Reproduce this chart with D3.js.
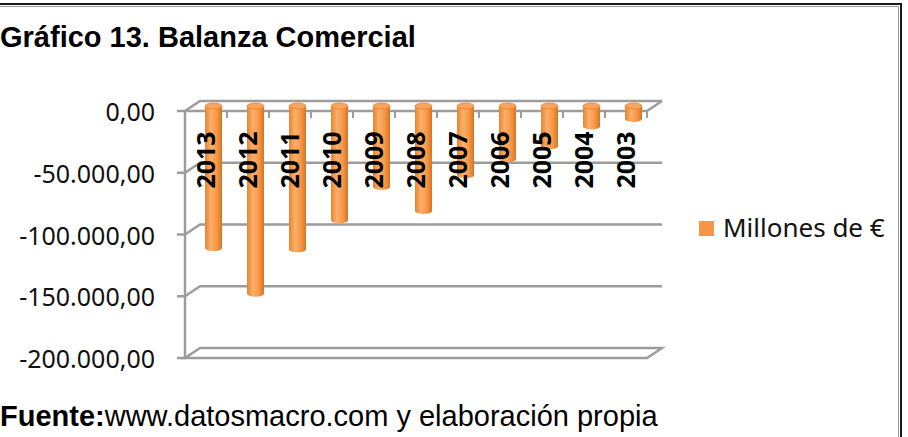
<!DOCTYPE html>
<html>
<head>
<meta charset="utf-8">
<script src="https://cdn.jsdelivr.net/npm/d3@7"></script>
<style>
  body { margin: 0; background: #fff; }
  svg { display: block; }
</style>
</head>
<body>
<div id="chart"></div>
<script>
// data (millones de euros)
var years = ["2013", "2012", "2011", "2010", "2009", "2008", "2007", "2006", "2005", "2004", "2003"];
var balance = [-115000, -152000, -116000, -92500, -65500, -85000, -56000, -43000, -32500, -16500, -10500];
var yTicks = [0, -50000, -100000, -150000, -200000];
var yTickLabels = ["0,00", "-50.000,00", "-100.000,00", "-150.000,00", "-200.000,00"];
var seriesName = "Millones de €";

var width = 908,
  height = 437;

var svg = d3
  .select("#chart")
  .append("svg")
  .attr("width", width)
  .attr("height", height);

// outer frame (left and bottom edges fall outside the picture)
svg
  .append("rect")
  .attr("x", -10)
  .attr("y", 4)
  .attr("width", 911)
  .attr("height", 460)
  .attr("fill", "none")
  .attr("stroke", "#1a1a1a")
  .attr("stroke-width", 2);
svg
  .append("path")
  .attr("d", "M-10,6.5H898.5V437")
  .attr("fill", "none")
  .attr("stroke", "#9a9a9a")
  .attr("stroke-width", 1);

// title
svg
  .append("text")
  .attr("x", 0)
  .attr("y", 47)
  .style("font-family", "'Liberation Sans', Arial, sans-serif")
  .style("font-weight", "bold")
  .style("font-size", "29px")
  .attr("fill", "#000")
  .text("Gráfico 13. Balanza Comercial");

// 3d box: front plane and depth offset
var front = { left: 185, right: 647, top: 111, bottom: 358 };
var depth = { dx: 15, dy: -10 };

var x = d3.scaleBand().domain(years).range([front.left, front.right]);

var yFront = d3.scaleLinear().domain([0, -200000]).range([front.top, front.bottom]);
var yBack = yFront.copy().range([front.top + depth.dy, front.bottom + depth.dy]);
var yMid = yFront.copy().range([front.top + depth.dy / 2, front.bottom + depth.dy / 2]);

var gridColor = "#9c9c9c";
var plot = svg.append("g").attr("class", "plot");

// floor
var fb = yFront(-200000);
plot
  .append("path")
  .attr(
    "d",
    "M" + front.left + "," + fb +
      "L" + (front.left + depth.dx) + "," + (fb + depth.dy) +
      "H" + (front.right + depth.dx) +
      "L" + front.right + "," + fb + "Z"
  )
  .attr("fill", "#fff")
  .attr("stroke", gridColor)
  .attr("stroke-width", 2.5);

// back wall gridlines with the side-wall diagonals
plot
  .selectAll(".grid")
  .data(yTicks.slice(0, -1))
  .join("path")
  .attr("class", "grid")
  .attr("d", function (d) {
    return (
      "M" + front.left + "," + yFront(d) +
      "L" + (front.left + depth.dx) + "," + yBack(d) +
      "H" + (front.right + depth.dx)
    );
  })
  .attr("fill", "none")
  .attr("stroke", gridColor)
  .attr("stroke-width", 2.5);

// value axis (front left edge)
plot
  .append("line")
  .attr("x1", front.left)
  .attr("x2", front.left)
  .attr("y1", front.top)
  .attr("y2", front.bottom)
  .attr("stroke", gridColor)
  .attr("stroke-width", 2.5);

plot
  .selectAll(".ytick")
  .data(yTicks)
  .join("line")
  .attr("class", "ytick")
  .attr("x1", front.left - 8)
  .attr("x2", front.left)
  .attr("y1", function (d) { return yFront(d); })
  .attr("y2", function (d) { return yFront(d); })
  .attr("stroke", gridColor)
  .attr("stroke-width", 2.5);

svg
  .selectAll(".ylabel")
  .data(yTicks)
  .join("text")
  .attr("class", "ylabel")
  .attr("x", 155)
  .attr("y", function (d) { return yFront(d) + 10; })
  .attr("text-anchor", "end")
  .style("font-family", "'Noto Sans', sans-serif")
  .style("font-size", "25px")
  .attr("fill", "#111")
  .text(function (d, i) { return yTickLabels[i]; });

// category axis at zero, ticks between the years
plot
  .append("path")
  .attr(
    "d",
    "M" + front.left + "," + front.top + "H" + front.right +
      "L" + (front.right + depth.dx) + "," + (front.top + depth.dy)
  )
  .attr("fill", "none")
  .attr("stroke", gridColor)
  .attr("stroke-width", 2.5);

var catTicks = years.map(function (d) { return x(d) + x.bandwidth(); });
plot
  .selectAll(".xtick")
  .data(catTicks)
  .join("line")
  .attr("class", "xtick")
  .attr("x1", function (d) { return d; })
  .attr("x2", function (d) { return d; })
  .attr("y1", front.top)
  .attr("y2", front.top + 7)
  .attr("stroke", gridColor)
  .attr("stroke-width", 2);

// cylinder shading
var defs = svg.append("defs");
var grad = defs
  .append("linearGradient")
  .attr("id", "cyl")
  .attr("x1", "0%")
  .attr("x2", "100%");
grad.append("stop").attr("offset", "0%").attr("stop-color", "#e8822f");
grad.append("stop").attr("offset", "35%").attr("stop-color", "#fbb06a");
grad.append("stop").attr("offset", "70%").attr("stop-color", "#f79646");
grad.append("stop").attr("offset", "100%").attr("stop-color", "#d9731f");

var barW = 17,
  ry = 3;
var data = years.map(function (d, i) { return { year: d, value: balance[i] }; });

function cx(d) {
  return x(d.year) + x.bandwidth() / 2 + depth.dx / 2;
}

var bars = plot.selectAll(".bar").data(data).join("g").attr("class", "bar");

bars
  .append("rect")
  .attr("x", function (d) { return cx(d) - barW / 2; })
  .attr("y", yMid(0))
  .attr("width", barW)
  .attr("height", function (d) { return yMid(d.value) - yMid(0); })
  .attr("fill", "url(#cyl)");

bars
  .append("ellipse")
  .attr("cx", cx)
  .attr("cy", function (d) { return yMid(d.value); })
  .attr("rx", barW / 2)
  .attr("ry", ry)
  .attr("fill", "url(#cyl)");

bars
  .append("ellipse")
  .attr("cx", cx)
  .attr("cy", yMid(0))
  .attr("rx", barW / 2)
  .attr("ry", ry)
  .attr("fill", "#f9a560")
  .attr("stroke", "#e8822f")
  .attr("stroke-width", 0.8);

// year labels on the front plane
svg
  .selectAll(".year")
  .data(years)
  .join("text")
  .attr("class", "year")
  .attr("transform", function (d) {
    return "translate(" + (x(d) + x.bandwidth() / 2) + ",160) rotate(-90)";
  })
  .attr("text-anchor", "middle")
  .attr("dy", "0.36em")
  .style("font-family", "'Noto Sans', sans-serif")
  .style("font-weight", "bold")
  .style("font-size", "25px")
  .attr("fill", "#000")
  .text(function (d) { return d; });

// legend
var legend = svg.append("g").attr("transform", "translate(699,221)");
legend.append("rect").attr("width", 15).attr("height", 15).attr("fill", "#f79646");
legend
  .append("text")
  .attr("x", 24)
  .attr("y", 16)
  .style("font-family", "'Noto Sans', sans-serif")
  .style("font-size", "26px")
  .attr("fill", "#111")
  .text(seriesName);

// source note
var note = svg
  .append("text")
  .attr("x", 0)
  .attr("y", 426)
  .style("font-family", "'Liberation Sans', Arial, sans-serif")
  .style("font-size", "29px")
  .attr("fill", "#000");
note.append("tspan").style("font-weight", "bold").text("Fuente:");
note.append("tspan").text("www.datosmacro.com y elaboración propia");
</script>
</body>
</html>
